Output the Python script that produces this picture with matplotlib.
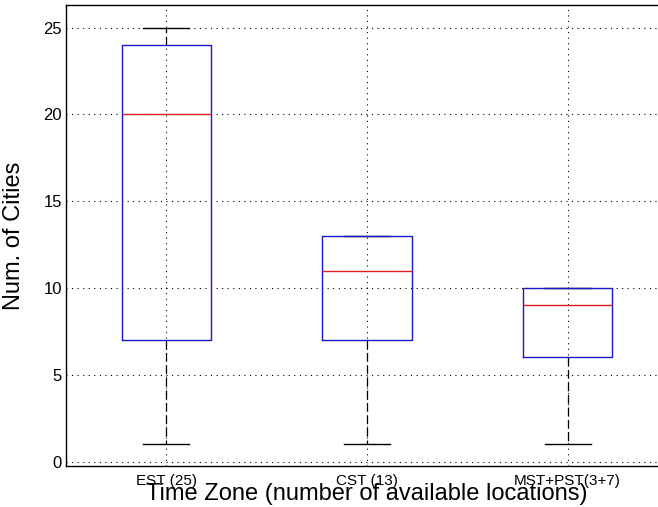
import matplotlib
matplotlib.use("Agg")
import matplotlib.pyplot as plt

plt.rcParams["font.family"] = ["Liberation Sans", "DejaVu Sans"]

labels = ["EST (25)", "CST (13)", "MST+PST(3+7)"]
q1 = [7, 7, 6]
medians = [20, 11, 9]
q3 = [24, 13, 10]
whis_lo = [1, 1, 1]
whis_hi = [25, 13, 10]

stats = []
for lab, a, m, b, lo, hi in zip(labels, q1, medians, q3, whis_lo, whis_hi):
    stats.append({"label": lab, "q1": a, "med": m, "q3": b,
                  "whislo": lo, "whishi": hi, "fliers": []})

fig = plt.figure(figsize=(6.58, 5.07), dpi=100)
# axes runs a little past the right edge of the canvas
ax = fig.add_axes([66 / 658, 41 / 507, 602 / 658, 461 / 507])

parts = ax.bxp(stats, positions=[1, 2, 3], widths=0.445, showfliers=False,
               boxprops=dict(color="#1a1acc", linewidth=1.0),
               medianprops=dict(color="#e02020", linewidth=1.0),
               whiskerprops=dict(color="black", linewidth=0.9,
                                 linestyle=(0, (7, 3))),
               capprops=dict(color="black", linewidth=1.0),
               capwidths=0.23, zorder=3)
# boxes sit on top of caps that coincide with the quartile edge
for b in parts["boxes"]:
    b.set_zorder(4)
for m in parts["medians"]:
    m.set_zorder(5)

ax.set_xlim(0.5, 3.5)
ax.set_ylim(-0.25, 26.3)
ax.set_yticks([0, 5, 10, 15, 20, 25])
ax.set_xticks([1, 2, 3])
ax.set_xticklabels(labels)

ax.grid(True, color="black", linestyle=(0, (1, 4)), linewidth=0.8)
ax.set_axisbelow(True)

ax.tick_params(axis="y", direction="in", length=0, pad=3, labelsize=12)
ax.tick_params(axis="x", direction="in", length=0, pad=6, labelsize=11)

for side in ["top", "left", "bottom"]:
    ax.spines[side].set_linewidth(1.0)
    ax.spines[side].set_color("black")
ax.spines["right"].set_visible(False)

ax.set_ylabel("Num. of Cities", fontsize=17)
ax.yaxis.set_label_coords(-41 / 602, 0.5)
ax.set_xlabel("Time Zone (number of available locations)", fontsize=17)
ax.xaxis.set_label_coords(0.5, -34 / 461)
ax.xaxis.label.set_va("baseline")

fig.savefig("out.png", dpi=100, facecolor="white")
